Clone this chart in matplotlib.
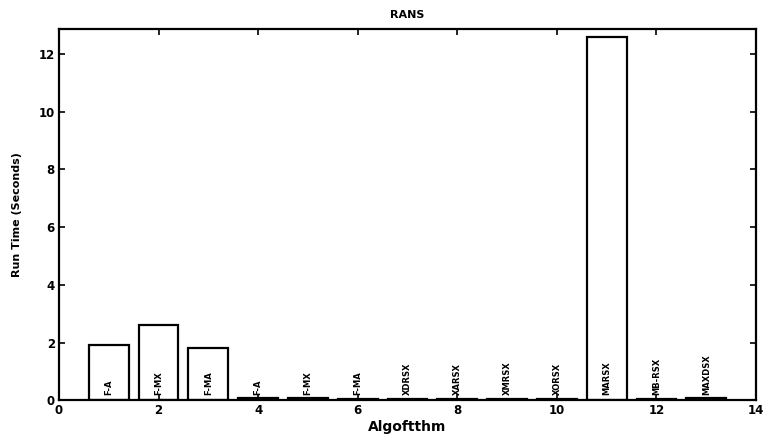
import matplotlib
matplotlib.use("Agg")
import matplotlib.pyplot as plt
import numpy as np

# Run time per algorithm
algorithms = ["F-A", "F-MX", "F-MA", "F-A", "F-MX", "F-MA",
              "XDRSX", "XARSX", "XMRSX", "XORSX", "MARSX", "MB-RSX", "MAXDSX"]
run_times = [1.9, 2.6, 1.8, 0.09, 0.08, 0.05, 0.04, 0.05, 0.05, 0.04, 12.6, 0.06, 0.07]
x_ticks = [0, 2, 4, 6, 8, 10, 12, 14]
y_ticks = [0, 2, 4, 6, 8, 10, 12]

plt.rcParams["font.family"] = ["DejaVu Sans"]
plt.rcParams["font.weight"] = "bold"

fig = plt.figure(figsize=(7.65, 4.36), dpi=100)
ax = fig.add_axes([0.0771, 0.0819, 0.9112, 0.8509])

positions = np.arange(1, len(run_times) + 1)
ax.bar(positions, run_times, width=0.8, facecolor="white",
       edgecolor="black", linewidth=1.6)

for xpos, name in zip(positions, algorithms):
    ax.text(xpos, 0.18, name, rotation=90, ha="center", va="bottom",
            fontsize=6, fontweight="bold", color="black")

ax.set_xlim(0, 14)
ax.set_ylim(0, 12.85)
ax.set_xticks(x_ticks)
ax.set_yticks(y_ticks)
ax.tick_params(direction="in", top=True, right=True, length=4, width=1.2,
               labelsize=8.5, pad=3)
for lbl in ax.get_xticklabels() + ax.get_yticklabels():
    lbl.set_fontweight("bold")
for sp in ax.spines.values():
    sp.set_linewidth(1.6)

ax.set_title("RANS", fontsize=8, fontweight="bold", pad=8)
ax.set_xlabel("Algoftthm", fontsize=10, fontweight="bold", labelpad=2)
ax.set_ylabel("Run Time (Seconds)", fontsize=8, fontweight="bold", labelpad=12)

fig.savefig("out.png", dpi=100)
